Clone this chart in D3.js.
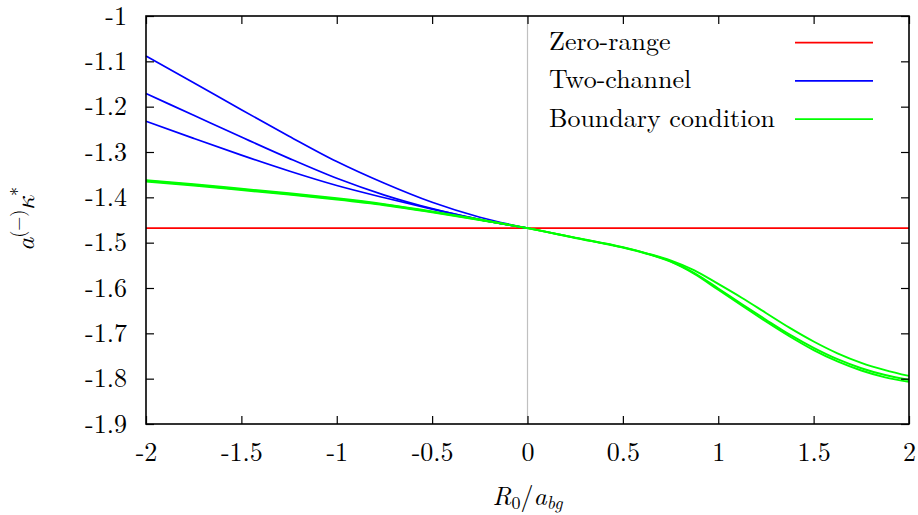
<!DOCTYPE html>
<html>
<head>
<meta charset="utf-8">
<script src="https://cdn.jsdelivr.net/npm/d3@7"></script>
<style>
  html, body { margin: 0; padding: 0; background: #fff; }
  svg { display: block; }
</style>
</head>
<body>
<svg id="chart" width="918" height="515"></svg>
<script>
// Scattering length a^(-) kappa* versus R0/a_bg for three models.

const xTickValues = [-2, -1.5, -1, -0.5, 0, 0.5, 1, 1.5, 2];
const xTickLabels = ["-2", "-1.5", "-1", "-0.5", "0", "0.5", "1", "1.5", "2"];
const yTickValues = [-1, -1.1, -1.2, -1.3, -1.4, -1.5, -1.6, -1.7, -1.8, -1.9];
const yTickLabels = ["-1", "-1.1", "-1.2", "-1.3", "-1.4", "-1.5", "-1.6", "-1.7", "-1.8", "-1.9"];

// Zero-range result is constant
const zeroRangeX = [-2, 2];
const zeroRangeY = [-1.468, -1.468];

// Two-channel model, three parameter sets (negative R0)
const twoChannelX = [-2, -1.75, -1.5, -1.25, -1, -0.75, -0.5, -0.25, 0];
const twoChannelA = [-1.088, -1.147, -1.207, -1.265, -1.321, -1.369, -1.411, -1.444, -1.468];
const twoChannelB = [-1.171, -1.219, -1.267, -1.314, -1.358, -1.395, -1.425, -1.449, -1.468];
const twoChannelC = [-1.232, -1.270, -1.307, -1.342, -1.374, -1.401, -1.426, -1.449, -1.468];

// Boundary-condition model, three parameter sets
const boundaryX = [-2, -1.75, -1.5, -1.25, -1, -0.75, -0.5, -0.25, 0, 0.25, 0.5, 0.625, 0.75, 0.875,
                   1, 1.125, 1.25, 1.375, 1.5, 1.625, 1.75, 1.875, 2];
const boundaryA = [-1.362, -1.371, -1.381, -1.391, -1.402, -1.415, -1.431, -1.449, -1.468, -1.489, -1.510, -1.5235, -1.539, -1.561,
                   -1.591, -1.622, -1.655, -1.688, -1.718, -1.744, -1.765, -1.781, -1.794];
const boundaryB = [-1.3635, -1.3725, -1.3825, -1.3925, -1.4035, -1.4163, -1.432, -1.4495, -1.468, -1.4893, -1.5105, -1.524, -1.541, -1.567,
                   -1.601, -1.636, -1.670, -1.703, -1.732, -1.757, -1.777, -1.792, -1.803];
const boundaryC = [-1.365, -1.374, -1.384, -1.394, -1.405, -1.4175, -1.433, -1.450, -1.468, -1.4896, -1.511, -1.5245, -1.542, -1.569,
                   -1.604, -1.639, -1.674, -1.707, -1.737, -1.762, -1.782, -1.797, -1.807];

const legendLabels = ["Zero-range", "Two-channel", "Boundary condition"];
const seriesColors = ["#ff0000", "#0000ff", "#00ff00"];

const svg = d3.select("#chart");
const plot = { left: 146, right: 909, top: 16, bottom: 424 };

const x = d3.scaleLinear().domain([-2, 2]).range([plot.left, plot.right]);
const y = d3.scaleLinear().domain([-1.9, -1]).range([plot.bottom, plot.top]);

const FAMILY = '"Latin Modern Roman", "Liberation Serif", "DejaVu Serif"';
const MATHFAMILY = '"Latin Modern Math", "Latin Modern Roman", "DejaVu Serif"';
const FONT = 26;
const SMALL = 18;

function setFont(sel, size) {
  return sel.style("font-family", FAMILY).style("font-size", size + "px").style("fill", "#000");
}

// zero axis
svg.append("line")
  .attr("x1", x(0)).attr("x2", x(0))
  .attr("y1", plot.top).attr("y2", plot.bottom)
  .attr("stroke", "#c0c0c0").attr("stroke-width", 1.2);

// curves
const line = d3.line()
  .x(d => x(d[0]))
  .y(d => y(d[1]))
  .curve(d3.curveMonotoneX);

function drawSeries(xs, ys, color, width) {
  svg.append("path")
    .datum(xs.map((v, i) => [v, ys[i]]))
    .attr("fill", "none")
    .attr("stroke", color)
    .attr("stroke-width", width)
    .attr("d", line);
}

drawSeries(zeroRangeX, zeroRangeY, seriesColors[0], 1.7);
[twoChannelA, twoChannelB, twoChannelC].forEach(ys => drawSeries(twoChannelX, ys, seriesColors[1], 1.7));
[boundaryA, boundaryB, boundaryC].forEach(ys => drawSeries(boundaryX, ys, seriesColors[2], 1.9));

// axes with inward ticks on all four sides
function styleAxis(g) {
  g.select(".domain").remove();
  g.selectAll(".tick line").attr("stroke", "#000").attr("stroke-width", 1.2);
  g.attr("font-family", null).attr("font-size", null);
  setFont(g.selectAll("text"), FONT);
}

svg.append("g")
  .attr("transform", `translate(${plot.left},0)`)
  .call(d3.axisLeft(y).tickValues(yTickValues).tickSize(-8).tickPadding(19)
    .tickFormat((d, i) => yTickLabels[i]))
  .call(styleAxis);

svg.append("g")
  .attr("transform", `translate(${plot.right},0)`)
  .call(d3.axisRight(y).tickValues(yTickValues).tickSize(-8).tickFormat(""))
  .call(styleAxis);

svg.append("g")
  .attr("transform", `translate(0,${plot.bottom})`)
  .call(d3.axisBottom(x).tickValues(xTickValues).tickSize(-8).tickPadding(19)
    .tickFormat((d, i) => xTickLabels[i]))
  .call(styleAxis);

svg.append("g")
  .attr("transform", `translate(0,${plot.top})`)
  .call(d3.axisTop(x).tickValues(xTickValues).tickSize(-8).tickFormat(""))
  .call(styleAxis);

// frame
svg.append("rect")
  .attr("x", plot.left).attr("y", plot.top)
  .attr("width", plot.right - plot.left).attr("height", plot.bottom - plot.top)
  .attr("fill", "none").attr("stroke", "#000").attr("stroke-width", 1.6);

// legend
const legend = svg.append("g");
legendLabels.forEach((label, i) => {
  const cy = 42.7 + i * 38.2;
  setFont(legend.append("text"), FONT)
    .attr("x", 549).attr("y", cy + 7.4)
    .text(label);
  legend.append("line")
    .attr("x1", 795).attr("x2", 873)
    .attr("y1", cy).attr("y2", cy)
    .attr("stroke", seriesColors[i]).attr("stroke-width", 1.8);
});

// x axis title: R_0 / a_bg
const xt = setFont(svg.append("text"), FONT)
  .attr("x", x(0)).attr("y", 505)
  .attr("text-anchor", "middle");
xt.append("tspan").style("font-style", "italic").text("R");
xt.append("tspan").attr("dy", 4).style("font-size", SMALL + "px").text("0");
xt.append("tspan").attr("dy", -4).text("/");
xt.append("tspan").style("font-style", "italic").text("a");
xt.append("tspan").attr("dy", 4).style("font-style", "italic").style("font-size", SMALL + "px").text("bg");

// y axis title: a^(-) kappa^*
const yt = setFont(svg.append("text"), FONT)
  .attr("transform", `translate(33.5,219) rotate(-90)`)
  .attr("text-anchor", "middle");
yt.append("tspan").style("font-style", "italic").text("a");
yt.append("tspan").attr("dy", -10).style("font-size", SMALL + "px").text("(−)");
yt.append("tspan").attr("dy", 10).style("font-style", "italic").style("font-family", MATHFAMILY).text("κ");
yt.append("tspan").attr("dy", -10).style("font-size", SMALL + "px").text("*");
</script>
</body>
</html>
